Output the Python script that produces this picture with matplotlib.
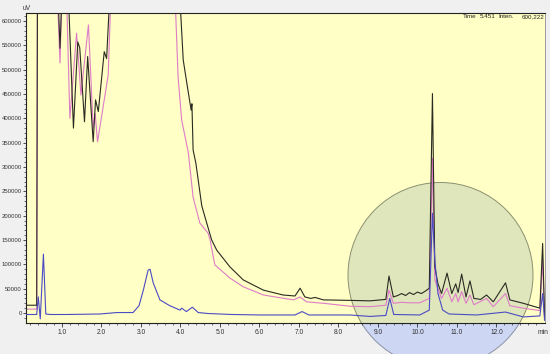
import numpy as np
import matplotlib
matplotlib.use('Agg')
import matplotlib.pyplot as plt
from matplotlib.patches import Ellipse

# chromatogram traces (min, uV); 700000 = off scale
t_black = [0.09, 0.36, 0.38, 0.88, 0.95, 1.02, 1.14, 1.29, 1.40, 1.45, 1.57, 1.65, 1.79, 1.85,
           1.92, 2.07, 2.13, 2.24, 3.95, 4.07, 4.16, 4.27, 4.29, 4.32, 4.39, 4.54, 4.79, 4.92,
           5.25, 5.59, 6.10, 6.60, 6.90, 7.03, 7.15, 7.30, 7.41, 7.62, 8.29, 8.80, 9.20, 9.28,
           9.39, 9.50, 9.60, 9.70, 9.80, 9.90, 10.00, 10.10, 10.20, 10.30, 10.38, 10.44, 10.52,
           10.61, 10.75, 10.87, 10.97, 11.03, 11.12, 11.23, 11.33, 11.43, 11.60, 11.75, 11.92,
           12.23, 12.34, 12.68, 13.10, 13.17, 13.22]
v_black = [16000, 16000, 700000, 700000, 544000, 700000, 700000, 380000, 557000, 545000,
           393000, 527000, 352000, 438000, 414000, 537000, 523000, 700000, 700000, 520000,
           473000, 417000, 430000, 335000, 308000, 220000, 150000, 129000, 95000, 68000, 47000,
           37000, 35000, 51000, 33000, 30000, 32000, 27000, 26000, 25000, 28000, 76000, 33000,
           36000, 40000, 36000, 42000, 38000, 43000, 40000, 45000, 51000, 451000, 95000, 60000,
           40000, 82000, 40000, 60000, 42000, 80000, 33000, 66000, 30000, 28000, 37000, 23000,
           62000, 27000, 20000, 10000, 143000, -10000]

t_pink = [0.09, 0.36, 0.38, 0.86, 0.95, 1.01, 1.10, 1.20, 1.37, 1.48, 1.67, 1.79, 1.84, 1.90,
          2.09, 2.17, 2.26, 3.84, 3.94, 4.03, 4.20, 4.32, 4.49, 4.70, 4.75, 4.87, 5.25, 5.59,
          6.10, 6.86, 7.03, 7.19, 7.62, 8.29, 8.80, 9.20, 9.28, 9.39, 9.60, 9.80, 10.06, 10.30,
          10.38, 10.44, 10.61, 10.75, 10.87, 10.97, 11.03, 11.12, 11.23, 11.33, 11.43, 11.75,
          11.92, 12.23, 12.34, 12.68, 13.10, 13.17, 13.22]
v_pink = [8000, 8000, 700000, 700000, 514000, 700000, 700000, 400000, 575000, 448000, 592000,
          380000, 410000, 352000, 448000, 489000, 700000, 700000, 485000, 397000, 329000,
          238000, 185000, 164000, 150000, 99000, 72000, 54000, 37000, 27000, 33000, 23000,
          20000, 14000, 13000, 16000, 47000, 20000, 22000, 21000, 21000, 30000, 318000, 68000,
          30000, 51000, 23000, 40000, 23000, 44000, 20000, 37000, 17000, 30000, 13000, 40000,
          15000, 10000, 5000, 109000, -10000]

t_blue = [0.09, 0.36, 0.40, 0.45, 0.53, 0.59, 0.70, 1.12, 1.96, 2.39, 2.80, 2.95, 3.06, 3.18,
          3.23, 3.31, 3.48, 3.73, 3.99, 4.03, 4.15, 4.30, 4.45, 4.70, 5.30, 6.00, 6.90, 7.08,
          7.25, 8.29, 8.80, 9.20, 9.30, 9.40, 10.06, 10.30, 10.38, 10.44, 10.52, 10.64, 10.80,
          11.50, 12.23, 12.68, 13.10, 13.17, 13.22]
v_blue = [-3000, -3000, 33000, -12000, 121000, -2000, -3000, -3000, -2000, 1000, 1000, 15000,
          47000, 88000, 90000, 62000, 27000, 15000, 6000, 10000, 3000, 12000, 1000, -1000,
          -3000, -4000, -4000, 3000, -4000, -4000, -7000, -5000, 30000, -3000, -4000, 6000,
          205000, 109000, 40000, 6000, -2000, -4000, 2000, -8000, -6000, 40000, -15000]

y_ticks = list(range(0, 600001, 50000))
x_ticks = [1.0, 2.0, 3.0, 4.0, 5.0, 6.0, 7.0, 8.0, 9.0, 10.0, 11.0, 12.0]

W, H = 550, 354
fnt = ['Liberation Sans', 'DejaVu Sans']

fig = plt.figure(figsize=(W / 100, H / 100), dpi=100, facecolor='#F0F0F0')
ax = fig.add_axes([26 / W, 1 - 323 / H, (545 - 26) / W, (323 - 13) / H])
ax.set_facecolor('#FFFFC6')

# highlight circle: blue outside the plot, greenish inside
cx, cy, r = 440.5 / W, 1 - 275 / H, 92.5
fig.patches.append(Ellipse((cx, cy), 2 * r / W, 2 * r / H, transform=fig.transFigure,
                           facecolor='#CDD6F2', edgecolor='#8C93A8', lw=0.7, zorder=-1))
ax.add_patch(Ellipse((cx, cy), 2 * r / W, 2 * r / H, transform=fig.transFigure,
                     facecolor='#E0E6BC', edgecolor='#8A9070', lw=0.7, zorder=0.5))

ax.plot(t_black, v_black, color='#2A2A22', lw=0.8, zorder=3)
ax.plot(t_pink, v_pink, color='#DE7CC8', lw=0.8, zorder=2)
ax.plot(t_blue, v_blue, color='#4B4BC4', lw=0.8, zorder=4)

ax.set_xlim(0.089, 13.23)
ax.set_ylim(-20500, 616500)
ax.set_yticks(y_ticks)
ax.set_yticklabels([str(v) for v in y_ticks], fontsize=4.3, family=fnt, color='#333333')
ax.set_yticks(np.arange(-10000, 616000, 10000), minor=True)
ax.set_xticks(x_ticks)
ax.set_xticklabels(['%.1f' % v for v in x_ticks], fontsize=4.8, family=fnt, color='#333333')
ax.set_xticks(np.arange(0.2, 13.2, 0.2), minor=True)
ax.tick_params(axis='y', which='major', length=2.3, width=0.6, pad=0.8, color='#333333')
ax.tick_params(axis='x', which='major', length=3, width=0.6, pad=1.5, color='#333333')
ax.tick_params(axis='both', which='minor', length=1.3, width=0.5, color='#333333')
for s in ['top', 'left', 'bottom']:
    ax.spines[s].set_color('#222222')
    ax.spines[s].set_linewidth(0.8)
ax.spines['right'].set_color('#909090')
ax.spines['right'].set_linewidth(0.6)

fig.text(23 / W, 1 - 8 / H, 'uV', fontsize=4.8, family=fnt, va='center', color='#333333')
fig.text(543 / W, 1 - 332 / H, 'min', fontsize=4.8, family=fnt, ha='center', va='center',
         color='#333333')
for xp, s, ha in [(463, 'Time', 'left'), (480, '5.451', 'left'), (498, 'Inten.', 'left'),
                  (544, '600,222', 'right')]:
    fig.text(xp / W, 1 - 17 / H, s, fontsize=4.5, family=fnt, ha=ha, va='center',
             color='#222222')

fig.savefig('out.png', dpi=100, facecolor=fig.get_facecolor())
